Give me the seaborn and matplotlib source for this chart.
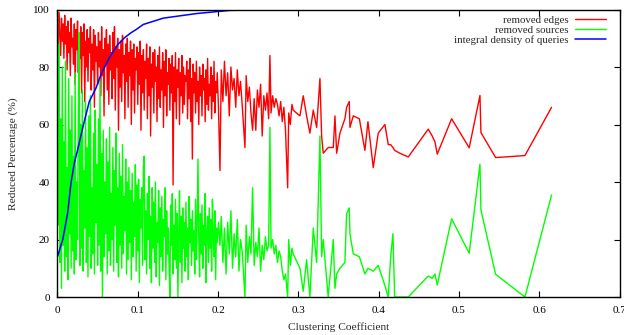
import matplotlib
matplotlib.use("Agg")
import matplotlib.pyplot as plt
import seaborn as sns
import pandas as pd

# clustering coefficient (x) for every measured point
cc = [
    0.000, 0.001, 0.002, 0.003, 0.004, 0.005, 0.006, 0.007, 0.008, 0.009,
    0.010, 0.011, 0.012, 0.013, 0.014, 0.015, 0.016, 0.017, 0.018, 0.019,
    0.020, 0.021, 0.022, 0.023, 0.024, 0.025, 0.026, 0.027, 0.028, 0.029,
    0.030, 0.031, 0.032, 0.033, 0.034, 0.035, 0.036, 0.037, 0.038, 0.039,
    0.040, 0.041, 0.042, 0.043, 0.044, 0.045, 0.046, 0.047, 0.048, 0.049,
    0.050, 0.051, 0.052, 0.053, 0.054, 0.055, 0.056, 0.057, 0.058, 0.059,
    0.060, 0.061, 0.062, 0.063, 0.064, 0.065, 0.066, 0.067, 0.068, 0.069,
    0.070, 0.071, 0.072, 0.073, 0.074, 0.075, 0.076, 0.077, 0.078, 0.079,
    0.080, 0.081, 0.082, 0.083, 0.084, 0.085, 0.086, 0.087, 0.088, 0.089,
    0.090, 0.091, 0.092, 0.093, 0.094, 0.095, 0.096, 0.097, 0.098, 0.099,
    0.100, 0.101, 0.102, 0.103, 0.104, 0.105, 0.106, 0.107, 0.108, 0.109,
    0.110, 0.111, 0.112, 0.113, 0.114, 0.115, 0.116, 0.117, 0.118, 0.119,
    0.120, 0.121, 0.122, 0.123, 0.124, 0.125, 0.126, 0.127, 0.128, 0.129,
    0.130, 0.131, 0.132, 0.133, 0.134, 0.135, 0.136, 0.137, 0.138, 0.139,
    0.140, 0.141, 0.142, 0.143, 0.144, 0.145, 0.146, 0.147, 0.148, 0.149,
    0.150, 0.151, 0.152, 0.153, 0.154, 0.155, 0.156, 0.157, 0.158, 0.159,
    0.160, 0.161, 0.162, 0.163, 0.164, 0.165, 0.166, 0.167, 0.168, 0.169,
    0.170, 0.171, 0.172, 0.173, 0.174, 0.175, 0.176, 0.177, 0.178, 0.179,
    0.180, 0.181, 0.182, 0.183, 0.184, 0.185, 0.186, 0.187, 0.188, 0.189,
    0.190, 0.191, 0.192, 0.193, 0.194, 0.195, 0.196, 0.197, 0.198, 0.199,
    0.2005, 0.2024, 0.204, 0.206, 0.208, 0.210, 0.212, 0.214, 0.216, 0.218,
    0.220, 0.222, 0.224, 0.226, 0.228, 0.230, 0.2335, 0.235, 0.237, 0.239,
    0.241, 0.243, 0.245, 0.247, 0.249, 0.251, 0.253, 0.255, 0.257, 0.259,
    0.261, 0.263, 0.2646, 0.266, 0.268, 0.270, 0.272, 0.274, 0.276, 0.278,
    0.280, 0.282, 0.284, 0.2867, 0.288, 0.290, 0.292, 0.2936, 0.302, 0.3061,
    0.3103, 0.3144, 0.3186, 0.3228, 0.3269, 0.329, 0.331, 0.3372, 0.3435, 0.3456,
    0.3477, 0.3518, 0.358, 0.3601, 0.3634, 0.3643, 0.3684, 0.376, 0.3829, 0.3867,
    0.3933, 0.3995, 0.4078, 0.412, 0.415, 0.4178, 0.420, 0.4265, 0.4369, 0.4618,
    0.4667, 0.4701, 0.4730, 0.4909, 0.5128, 0.5262, 0.5274, 0.5457, 0.5822, 0.6154,
]

removed_edges = [
    100, 86, 99, 91, 84, 97, 89, 95, 83, 98,
    88, 94, 79, 96, 85, 92, 77, 97, 87, 90,
    81, 95, 74, 93, 86, 96, 78, 91, 83, 94,
    71, 92, 84, 95, 68, 89, 80, 93, 75, 90,
    85, 94, 72, 88, 79, 93, 66, 91, 82, 87,
    74, 92, 80, 89, 70, 94, 77, 86, 63, 90,
    81, 93, 72, 88, 67, 91, 79, 85, 69, 92,
    76, 94, 65, 87, 80, 90, 58, 86, 73, 89,
    68, 91, 78, 84, 62, 88, 75, 90, 66, 85,
    77, 89, 60, 86, 72, 88, 64, 83, 79, 87,
    67, 85, 74, 89, 58, 84, 71, 86, 65, 82,
    76, 88, 62, 83, 70, 87, 56, 81, 73, 85,
    64, 86, 75, 80, 61, 84, 69, 87, 66, 79,
    72, 85, 59, 82, 70, 86, 63, 78, 74, 83,
    65, 81, 71, 84, 39, 80, 68, 85, 62, 79,
    73, 83, 60, 78, 70, 84, 64, 80, 67, 77,
    75, 82, 62, 79, 69, 83, 61, 76, 48, 81,
    71, 78, 64, 82, 68, 75, 60, 80, 70, 77,
    63, 81, 72, 76, 61, 79, 67, 83, 65, 74,
    70, 80, 62, 77, 68, 82, 64, 75, 71, 78,
    66, 44, 79, 68, 82, 70, 78, 63, 80, 72,
    76, 66, 79, 70, 75, 67, 52, 77, 68, 73,
    64, 58, 69, 58, 72, 66, 74, 56, 70, 65,
    71, 62, 84, 64, 70, 66, 69, 67, 63, 68,
    61, 66, 58, 38, 64, 60, 67, 65, 63, 70,
    63, 57, 65, 59, 76, 56, 50, 52, 52, 63,
    50, 57, 62, 66, 68, 59, 63, 62, 51, 61,
    45, 57, 60, 53, 53, 52, 51, 50, 48.7, 58.4,
    56, 54, 49.7, 62, 51.9, 70.1, 57.2, 48.5, 49.2, 66,
]

removed_sources = [
    100, 25, 88, 12, 62, 3, 80, 18, 54, 9,
    82, 14, 45, 6, 76, 22, 58, 10, 70, 16,
    49, 8, 78, 13, 40, 20, 66, 92, 11, 60,
    17, 72, 9, 44, 24, 68, 12, 52, 7, 63,
    21, 70, 10, 38, 15, 57, 8, 65, 26, 46,
    11, 62, 18, 76, 9, 50, 0, 58, 14, 40,
    22, 55, 8, 47, 16, 59, 11, 36, 20, 52,
    9, 44, 25, 57, 12, 38, 7, 50, 18, 42,
    10, 53, 15, 35, 23, 48, 8, 40, 13, 45,
    19, 37, 6, 43, 14, 33, 21, 46, 9, 39,
    16, 41, 5, 34, 24, 38, 11, 45, 49, 13,
    30, 8, 36, 20, 42, 10, 28, 5, 38, 17,
    33, 12, 40, 7, 26, 19, 37, 4, 31, 14,
    35, 9, 27, 21, 38, 6, 30, 15, 24, 11,
    0, 32, 18, 36, 8, 25, 13, 34, 10, 29,
    0, 22, 37, 12, 28, 5, 31, 17, 26, 9,
    33, 14, 24, 6, 35, 19, 27, 11, 30, 16,
    23, 8, 34, 13, 26, 48, 20, 7, 29, 15,
    32, 10, 25, 18, 36, 5, 22, 28, 12, 31,
    17, 27, 9, 34, 21, 14, 30, 6, 24, 19,
    26, 18, 28, 12, 24, 8, 26, 15, 30, 10,
    22, 14, 27, 9, 20, 16, 0, 25, 12, 21,
    15, 38, 11, 19, 14, 24, 9, 18, 13, 21,
    16, 18, 59, 17, 20, 15, 18, 12, 16, 14,
    9, 6, 8, 0, 20, 11, 17, 15, 10, 2,
    13, 0, 24, 12, 56, 14, 20, 0, 20, 3,
    8, 10, 12, 29, 31, 22, 15, 14, 8, 10,
    9, 11, 4, 0, 14, 22, 0, 0, 0, 7.3,
    6.5, 8, 4.2, 27.2, 15.2, 46.2, 30.3, 7.9, 0, 35.5,
]

# cumulative share of queries
query_cc = [0.000, 0.0065, 0.0127, 0.0168, 0.021, 0.0251, 0.0314, 0.0396, 0.048, 0.0542,
            0.0645, 0.075, 0.0832, 0.0915, 0.0978, 0.1069, 0.1318, 0.1733, 0.2148, 0.27,
            0.35, 0.45, 0.55, 0.6154]
query_density = [14, 19.9, 29.2, 39.6, 46.6, 51.2, 58.8, 68, 72.7, 77.4,
                 83.2, 87.8, 90.1, 91.9, 93, 94.8, 97, 98.6, 99.7, 100,
                 100, 100, 100, 100]

xtick_vals = [0, 0.1, 0.2, 0.3, 0.4, 0.5, 0.6, 0.7]
xtick_labels = ["0", "0.1", "0.2", "0.3", "0.4", "0.5", "0.6", "0.7"]
ytick_vals = [0, 20, 40, 60, 80, 100]

df = pd.DataFrame({"cc": cc, "edges": removed_edges, "sources": removed_sources})
dq = pd.DataFrame({"cc": query_cc, "density": query_density})

sns.set_style("ticks")
plt.rcParams["font.family"] = ["Liberation Serif", "DejaVu Serif"]
plt.rcParams["font.size"] = 8

fig, ax = plt.subplots(figsize=(6.24, 3.35), dpi=100)
fig.subplots_adjust(left=0.0921, right=0.9928, bottom=0.1134, top=0.9716)

sns.lineplot(data=df, x="cc", y="edges", ax=ax, color="#ff0000", lw=1.0,
             estimator=None, sort=False, label="removed edges")
sns.lineplot(data=df, x="cc", y="sources", ax=ax, color="#00ff00", lw=1.0,
             estimator=None, sort=False, label="removed sources")
sns.lineplot(data=dq, x="cc", y="density", ax=ax, color="#0000ff", lw=1.1,
             estimator=None, sort=False, label="integral density of queries")

ax.set_xlim(0, 0.7)
ax.set_ylim(0, 100)
ax.set_xticks(xtick_vals)
ax.set_xticklabels(xtick_labels)
ax.set_yticks(ytick_vals)
ax.tick_params(direction="in", length=4, width=0.8, top=True, right=True,
               labelsize=8, colors="black")
ax.tick_params(axis="x", pad=6.5)
ax.tick_params(axis="y", pad=5.4)
for s in ax.spines.values():
    s.set_linewidth(1.0)
    s.set_color("black")

ax.set_xlabel("Clustering Coefficient", fontsize=8.2, labelpad=5)
ax.set_ylabel("Reduced Percentage (%)", fontsize=8.2, labelpad=11)

ax.legend(loc="upper right", bbox_to_anchor=(0.991, 1.011), frameon=False,
          markerfirst=False, fontsize=7.8, handlelength=2.8, handletextpad=0.6,
          labelspacing=0.05, borderaxespad=0.4)

fig.savefig("out.png", dpi=100)
